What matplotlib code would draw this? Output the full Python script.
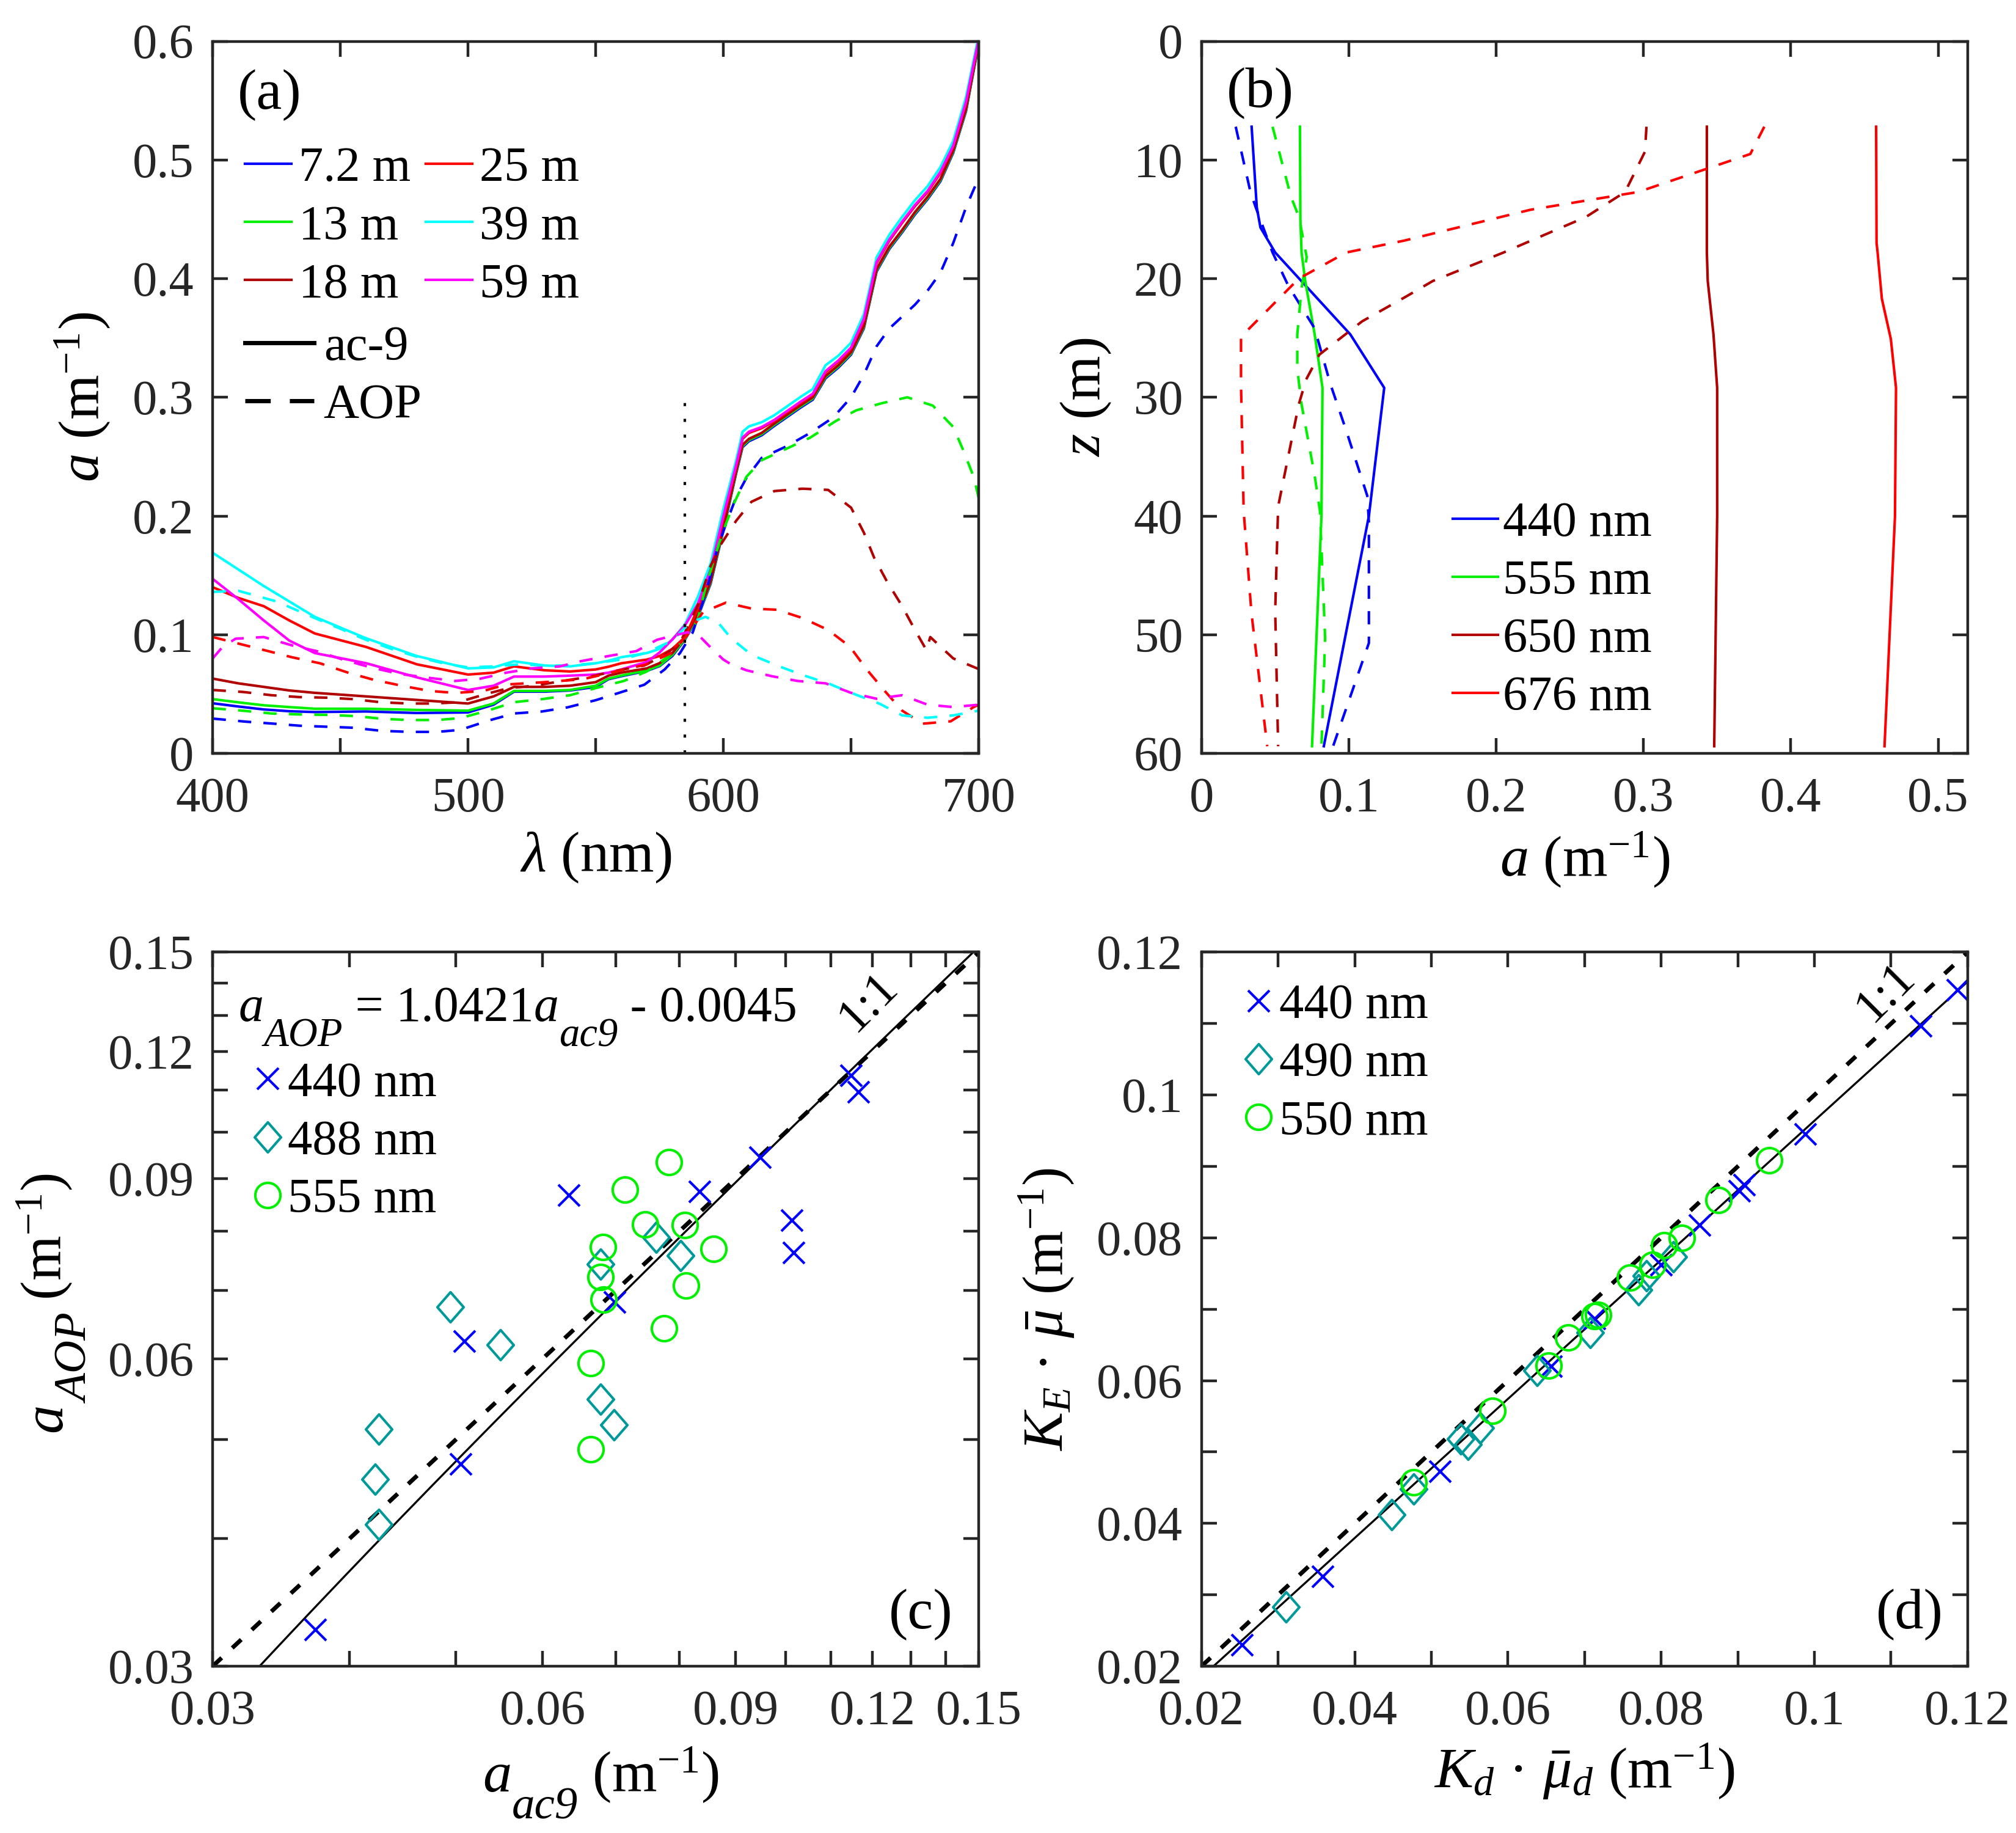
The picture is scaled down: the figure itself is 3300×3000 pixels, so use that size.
import numpy as np
import matplotlib
matplotlib.use("Agg")
import matplotlib.pyplot as plt
from matplotlib.lines import Line2D
from matplotlib.path import Path
from matplotlib.ticker import FixedLocator, NullLocator
from matplotlib.transforms import IdentityTransform

plt.rcParams['font.family'] = ['Liberation Serif', 'DejaVu Serif']
plt.rcParams['mathtext.fontset'] = 'custom'
plt.rcParams['mathtext.rm'] = 'Liberation Serif'
plt.rcParams['mathtext.it'] = 'Liberation Serif:italic'
plt.rcParams['mathtext.bf'] = 'Liberation Serif:bold'
plt.rcParams['axes.linewidth'] = 1.6
plt.rcParams['axes.edgecolor'] = '#262626'

BLUE, GREEN, DRED, RED, CYAN, MAG, TEAL = '#0000ff', '#00f000', '#b00000', '#ff0000', '#00ffff', '#ff00ff', '#009999'

# ---------------- panel (a): absorption spectra ----------------
wl_ac9 = [400, 410, 420, 430, 440, 460, 480, 500, 510, 518, 530, 540, 550, 555, 560, 570, 575, 580, 585,
          590, 595, 600, 605, 607.5, 610, 615, 620, 630, 635, 640, 645, 650, 655, 660, 665, 670, 675,
          680, 685, 690, 695, 700]
ac9_7m = [.0422, .0395, .037, .0355, .0348, .0353, .034, .0345, .041, .052, .052, .053, .056, .0625, .065, .0695,
          .0735, .082, .096, .115, .143, .188, .236, .258, .263, .268, .276, .291, .298, .316, .325, .336, .358,
          .406, .425, .439, .454, .467, .482, .506, .541, .598]
ac9_13m = [.0457, .043, .0405, .039, .0376, .0376, .0366, .036, .042, .0526, .0526, .0534, .057, .063, .0655, .070,
           .074, .083, .0966, .116, .144, .189, .237, .259, .264, .269, .277, .292, .299, .317, .326, .337, .359,
           .407, .426, .440, .455, .468, .483, .507, .542, .599]
ac9_18m = [.063, .059, .056, .053, .051, .048, .045, .042, .048, .056, .056, .057, .060, .0655, .068, .0716,
           .076, .0845, .098, .117, .145, .190, .238, .260, .265, .270, .278, .293, .300, .318, .327, .338, .360,
           .408, .427, .441, .456, .469, .484, .508, .543, .600]
ac9_25m = [.140, .131, .124, .112, .101, .0897, .075, .0664, .068, .0733, .070, .069, .0707, .073, .0759, .079,
           .082, .088, .098, .122, .152, .198, .241, .265, .270, .274, .280, .295, .302, .321, .330, .341, .365,
           .413, .432, .447, .461, .473, .489, .511, .548, .601]
ac9_39m = [.169, .155, .141, .128, .115, .097, .082, .0716, .0724, .0776, .074, .0733, .0759, .078, .081, .0845,
           .088, .0957, .109, .132, .160, .206, .247, .271, .2755, .279, .285, .300, .307, .327, .335, .346, .370,
           .418, .437, .452, .466, .478, .494, .516, .553, .605]
ac9_59m = [.147, .130, .112, .095, .0845, .076, .064, .0534, .057, .0647, .0647, .0655, .0664, .068, .0707, .077,
           .085, .096, .108, .126, .155, .200, .243, .266, .271, .275, .281, .296, .303, .322, .331, .342, .366,
           .414, .433, .448, .462, .474, .490, .512, .549, .602]

wl_aop_7m = [400, 413, 424, 434, 445, 455, 466, 477, 488, 497, 508, 518, 529, 539, 550, 559, 569, 577, 583, 588,
             592, 595, 597.5, 600.8, 605, 609, 615, 625, 634, 643, 650, 655, 660, 665, 670, 675, 680, 685, 690,
             695, 700]
aop_7m = [.0293, .0267, .025, .0233, .0224, .0216, .019, .0181, .0181, .0198, .0276, .0336, .0353, .0388, .0448,
          .0509, .0578, .0707, .0845, .102, .128, .150, .172, .192, .216, .232, .249, .259, .270, .283, .300, .319,
          .343, .358, .368, .378, .390, .405, .430, .460, .485]
wl_aop_13m = [400, 412, 423, 434, 445, 456, 467, 477, 488, 497, 508, 518, 529, 540, 550, 561, 570, 578, 585, 590,
              593, 597, 600, 604, 609, 615, 625, 634, 644, 652, 662, 672, 682, 690, 694, 698, 700]
aop_13m = [.038, .0359, .0336, .0328, .0324, .0314, .029, .0281, .0281, .0297, .0362, .0431, .0457, .049, .055,
           .061, .069, .081, .097, .113, .140, .168, .188, .21, .233, .247, .257, .266, .280, .289, .295, .300,
           .293, .275, .255, .233, .215]
wl_aop_18m = [400, 412, 423, 434, 445, 455, 466, 477, 486, 496, 507, 516, 526, 537, 548, 559, 569, 577, 583, 590,
              595, 599, 605, 611, 620, 631, 641, 650, 655, 659, 664, 670, 675, 679.5, 681, 690, 700]
aop_18m = [.0534, .0517, .049, .0474, .0469, .0457, .043, .042, .042, .043, .050, .055, .057, .061, .0647, .070,
           .074, .083, .093, .125, .158, .176, .196, .212, .221, .223, .222, .207, .186, .165, .145, .124, .104,
           .087, .098, .080, .071]
wl_aop_25m = [400, 411, 422, 431, 442, 453, 463, 474, 485, 495, 506, 515, 530, 545, 560, 570, 580, 586, 592, 601,
              611, 621, 631, 641, 649.5, 656, 663, 670, 678, 689, 698, 700]
aop_25m = [.098, .092, .086, .081, .0759, .068, .062, .057, .0526, .0509, .0526, .058, .060, .0625, .070, .075,
           .085, .100, .119, .127, .122, .121, .114, .104, .090, .071, .053, .036, .025, .027, .039, .041]
wl_aop_39m = [400, 410, 425, 440, 450, 460, 470, 480, 490, 500, 510, 520, 530, 540, 550, 560, 570, 580, 585, 589,
              593, 598, 603, 611, 621, 631, 641, 650, 661, 670, 680, 690, 700]
aop_39m = [.136, .137, .128, .114, .105, .0957, .088, .0814, .076, .0724, .0733, .075, .074, .074, .076, .079,
           .085, .095, .106, .112, .115, .110, .097, .083, .074, .066, .059, .051, .042, .032, .030, .032, .036]
wl_aop_59m = [400, 404, 409, 420, 431, 441, 451, 462, 473, 484, 495, 505, 515, 525, 536, 544, 555, 566, 574, 580,
              586, 591, 596, 600, 603, 609, 619, 629, 640, 650, 660, 670, 680, 690, 700]
aop_59m = [.080, .090, .0966, .098, .091, .086, .079, .0724, .067, .0638, .061, .063, .068, .0716, .0733, .0776,
           .082, .0862, .0957, .099, .102, .098, .087, .079, .075, .070, .065, .061, .059, .051, .046, .049, .041,
           .039, .041]

depth_labels = ['7.2 m', '13 m', '18 m', '25 m', '39 m', '59 m']
depth_colors = [BLUE, GREEN, DRED, RED, CYAN, MAG]
spectra_ac9 = [ac9_7m, ac9_13m, ac9_18m, ac9_25m, ac9_39m, ac9_59m]
spectra_aop = [(wl_aop_7m, aop_7m), (wl_aop_13m, aop_13m), (wl_aop_18m, aop_18m),
               (wl_aop_25m, aop_25m), (wl_aop_39m, aop_39m), (wl_aop_59m, aop_59m)]
wl_cutoff = 585

# ---------------- panel (b): absorption profiles ----------------
z_ac9_440 = [7.2, 14, 15.7, 17.8, 24.7, 29.2, 40, 59.4]
ac9_440 = [0.034, 0.0375, 0.040, 0.050, 0.101, 0.124, 0.1136, 0.083]
z_aop_440 = [7.2, 12.7, 14.0, 17.8, 20.6, 24.2, 28.9, 32.8, 38.3, 40.5, 50.7, 59.4]
aop_440 = [0.0232, 0.0332, 0.0368, 0.0482, 0.0589, 0.0768, 0.0875, 0.0982, 0.1125, 0.1136, 0.1136, 0.0893]
z_ac9_555 = [7.2, 15, 17.8, 20.2, 24.7, 29.2, 40, 59.4]
ac9_555 = [0.0668, 0.0671, 0.0679, 0.0704, 0.0768, 0.0821, 0.0814, 0.075]
z_aop_555 = [7.2, 13.1, 14.8, 18.2, 20.8, 24.7, 27.6, 30.6, 36.6, 39.6, 50.3, 59.4]
aop_555 = [0.0482, 0.0607, 0.0661, 0.0714, 0.0679, 0.065, 0.065, 0.0679, 0.0768, 0.0804, 0.0839, 0.0814]
z_ac9_650 = [7.2, 17.8, 20.2, 24.7, 29.2, 40, 59.4]
ac9_650 = [0.343, 0.343, 0.3436, 0.3475, 0.350, 0.350, 0.348]
z_aop_650 = [7.2, 9.3, 12.7, 14.8, 17.8, 20.2, 21.5, 23.6, 26.4, 28.5, 30.6, 39.2, 48.0, 59.4]
aop_650 = [0.302, 0.301, 0.2875, 0.261, 0.205, 0.157, 0.139, 0.109, 0.080, 0.071, 0.066, 0.052, 0.050, 0.052]
z_ac9_676 = [7.2, 17, 17.8, 21.7, 25.1, 29.2, 40, 59.4]
ac9_676 = [0.4579, 0.4582, 0.4589, 0.4618, 0.4679, 0.4714, 0.4707, 0.4636]
z_aop_676 = [7.2, 9.5, 12.7, 14.2, 16.8, 17.8, 20, 24.9, 29, 39.6, 48.2, 59.4]
aop_676 = [0.382, 0.3725, 0.2964, 0.2232, 0.1375, 0.0982, 0.066, 0.0268, 0.0268, 0.0286, 0.0339, 0.0446]

profile_labels = ['440 nm', '555 nm', '650 nm', '676 nm']
profile_colors = [BLUE, GREEN, DRED, RED]
profiles_ac9 = [(z_ac9_440, ac9_440), (z_ac9_555, ac9_555), (z_ac9_650, ac9_650), (z_ac9_676, ac9_676)]
profiles_aop = [(z_aop_440, aop_440), (z_aop_555, aop_555), (z_aop_650, aop_650), (z_aop_676, aop_676)]

# ---------------- panel (c): a_AOP vs a_ac9 ----------------
c440_x = [0.0372, 0.0505, 0.0509, 0.0634, 0.0698, 0.0834, 0.0947, 0.1012, 0.1017, 0.1147, 0.1165]
c440_y = [0.0326, 0.0473, 0.0624, 0.0868, 0.0682, 0.0875, 0.0945, 0.0820, 0.0762, 0.1137, 0.1095]
c488_x = [0.0425, 0.0422, 0.0425, 0.0494, 0.0549, 0.0678, 0.0697, 0.0678, 0.0762, 0.0802]
c488_y = [0.0413, 0.0457, 0.0512, 0.0674, 0.0619, 0.0548, 0.0517, 0.0743, 0.0789, 0.0757]
c555_x = [0.0664, 0.0664, 0.0682, 0.0678, 0.0681, 0.0713, 0.0744, 0.0782, 0.0774, 0.0809, 0.0811, 0.0859]
c555_y = [0.0489, 0.0594, 0.0686, 0.0721, 0.0772, 0.0879, 0.0812, 0.0934, 0.0643, 0.0811, 0.0708, 0.0769]
fit_c = (1.0421, -0.0045)

# ---------------- panel (d): K_E*mu vs Kd*mud ----------------
d440_x = [0.0253, 0.0358, 0.0511, 0.0656, 0.0713, 0.0800, 0.0850, 0.0902, 0.0908, 0.0988, 0.1139, 0.1187]
d440_y = [0.0230, 0.0326, 0.0473, 0.0620, 0.0687, 0.0762, 0.0818, 0.0866, 0.0874, 0.0945, 0.1097, 0.1147]
d490_x = [0.0310, 0.0448, 0.0477, 0.0538, 0.0548, 0.0564, 0.0638, 0.0707, 0.0770, 0.0781, 0.0816]
d490_y = [0.0283, 0.0412, 0.0448, 0.0518, 0.0511, 0.0534, 0.0614, 0.0667, 0.0727, 0.0747, 0.0773]
d550_x = [0.0477, 0.0580, 0.0653, 0.0679, 0.0713, 0.0718, 0.0759, 0.0789, 0.0804, 0.0827, 0.0875, 0.0941]
d550_y = [0.0458, 0.0558, 0.0621, 0.0660, 0.0690, 0.0692, 0.0744, 0.0762, 0.0790, 0.0800, 0.0853, 0.0909]
fit_d = (0.974, -0.0010)

TICK_FS = 29
LAB_FS = 34
LW = 1.5
DASH = (5.2, 4.8)
DPI = 200
diamond = Path([(0, 1), (0.875, 0), (0, -1), (-0.875, 0), (0, 1)], closed=True)
MK = dict(x=dict(marker='x', ms=12.6, mew=1.5, color=BLUE, ls='none'),
          d=dict(marker=diamond, ms=17.7, mew=1.5, mfc='none', mec=TEAL, color=TEAL, ls='none'),
          o=dict(marker='o', ms=14.8, mew=1.5, mfc='none', mec=GREEN, color=GREEN, ls='none'))
LEG = dict(frameon=False, fontsize=TICK_FS, labelspacing=0.27, borderpad=0, borderaxespad=0)


def style(ax):
    ax.tick_params(which='both', direction='in', top=True, right=True, length=9, width=1.6,
                   labelsize=TICK_FS, colors='#262626')
    ax.tick_params(axis='y', pad=11)
    ax.tick_params(axis='x', pad=14)


def chain(fig, x, y, pieces, vertical=False):
    # MATLAB-like text with full-size dropped subscripts, built from pieces placed one after another
    rend = fig.canvas.get_renderer()
    px, py = fig.transFigure.transform((x, y))
    k = DPI / 72.0
    for s, size, style_, rise in pieces:
        if vertical:
            t = fig.text(px - rise * k, py, s, fontsize=size, fontstyle=style_, rotation=90,
                         rotation_mode='anchor', ha='left', va='baseline', transform=IdentityTransform())
            py = t.get_window_extent(rend).y1
        else:
            t = fig.text(px, py + rise * k, s, fontsize=size, fontstyle=style_,
                         ha='left', va='baseline', transform=IdentityTransform())
            px = t.get_window_extent(rend).x1


fig = plt.figure(figsize=(16.5, 15), dpi=DPI)
ax_a = fig.add_axes([0.1055, 0.589, 0.380, 0.3885])
ax_b = fig.add_axes([0.596, 0.589, 0.380, 0.3885])
ax_c = fig.add_axes([0.1055, 0.091, 0.380, 0.3895])
ax_d = fig.add_axes([0.596, 0.091, 0.380, 0.3895])

# (a)
for col, vals in zip(depth_colors, spectra_ac9):
    ax_a.plot(wl_ac9, vals, color=col, lw=LW)
for col, (wl, vals) in zip(depth_colors, spectra_aop):
    ax_a.plot(wl, vals, color=col, lw=LW, ls=(0, DASH))
ax_a.plot([wl_cutoff, wl_cutoff], [0, 0.3], color='k', lw=1.5, ls=(0, (1.2, 5)))
ax_a.set_xlim(400, 700)
ax_a.set_ylim(0, 0.6)
ax_a.set_xticks([400, 450, 500, 550, 600, 650, 700], ['400', '', '500', '', '600', '', '700'])
ax_a.set_yticks([0, 0.1, 0.2, 0.3, 0.4, 0.5, 0.6], ['0', '0.1', '0.2', '0.3', '0.4', '0.5', '0.6'])
style(ax_a)
ax_a.set_xlabel(r'$\lambda$ (nm)', fontsize=LAB_FS, labelpad=5)
ax_a.set_ylabel(r'$a$ (m$^{-1}$)', fontsize=LAB_FS, labelpad=12)
h1 = [Line2D([], [], color=c, lw=LW) for c in depth_colors]
leg1 = ax_a.legend(h1, depth_labels, ncol=2, loc='upper left', bbox_to_anchor=(0.042, 0.852),
                   handlelength=0.95, handletextpad=0.15, columnspacing=0.3, **LEG)
ax_a.add_artist(leg1)
h2 = [Line2D([], [], color='k', lw=2.5), Line2D([], [], color='k', lw=2.5, ls=(0, (6, 4.5)))]
ax_a.legend(h2, ['ac-9', 'AOP'], loc='upper left', bbox_to_anchor=(0.042, 0.601),
            handlelength=1.4, handletextpad=0.2, **LEG)
ax_a.text(0.074, 0.924, '(a)', transform=ax_a.transAxes, fontsize=34, ha='center', va='center')

# (b)
for col, (z, vals) in zip(profile_colors, profiles_ac9):
    ax_b.plot(vals, z, color=col, lw=LW)
for col, (z, vals) in zip(profile_colors, profiles_aop):
    ax_b.plot(vals, z, color=col, lw=LW, ls=(0, DASH))
ax_b.set_xlim(0, 0.52)
ax_b.set_ylim(60, 0)
ax_b.set_xticks([0, 0.1, 0.2, 0.3, 0.4, 0.5], ['0', '0.1', '0.2', '0.3', '0.4', '0.5'])
ax_b.set_yticks([0, 10, 20, 30, 40, 50, 60])
style(ax_b)
ax_b.set_xlabel(r'$a$ (m$^{-1}$)', fontsize=LAB_FS, labelpad=5)
ax_b.set_ylabel(r'$z$ (m)', fontsize=LAB_FS, labelpad=12)
hb = [Line2D([], [], color=c, lw=LW) for c in profile_colors]
ax_b.legend(hb, profile_labels, loc='upper left', bbox_to_anchor=(0.328, 0.354),
            handlelength=0.92, handletextpad=0.1, **LEG)
ax_b.text(0.077, 0.927, '(b)', transform=ax_b.transAxes, fontsize=34, ha='center', va='center')

# (c)
ax_c.set_xscale('log')
ax_c.set_yscale('log')
one = np.array([0.03, 0.15])
ax_c.plot(one, one, color='k', lw=2.5, ls=(0, (2.9, 3.4)))
xf = np.linspace(0.03, 0.15, 200)
ax_c.plot(xf, fit_c[0] * xf + fit_c[1], color='k', lw=1.2)
pc1, = ax_c.plot(c440_x, c440_y, **MK['x'])
pc2, = ax_c.plot(c488_x, c488_y, **MK['d'])
pc3, = ax_c.plot(c555_x, c555_y, **MK['o'])
ax_c.set_xlim(0.03, 0.15)
ax_c.set_ylim(0.03, 0.15)
cticks = [0.03, 0.04, 0.05, 0.06, 0.07, 0.08, 0.09, 0.10, 0.11, 0.12, 0.13, 0.14, 0.15]
clabels = ['0.03', '', '', '0.06', '', '', '0.09', '', '', '0.12', '', '', '0.15']
for axis in (ax_c.xaxis, ax_c.yaxis):
    axis.set_major_locator(FixedLocator(cticks))
    axis.set_minor_locator(NullLocator())
ax_c.set_xticklabels(clabels)
ax_c.set_yticklabels(clabels)
style(ax_c)
ax_c.text(0.119, 0.134, '1:1', fontsize=TICK_FS, rotation=45, ha='center', va='center')
ax_c.legend([pc1, pc2, pc3], ['440 nm', '488 nm', '555 nm'], loc='upper left',
            bbox_to_anchor=(0.052, 0.847), numpoints=1, handlelength=0.6, handletextpad=0.12, **LEG)
ax_c.text(0.924, 0.072, '(c)', transform=ax_c.transAxes, fontsize=34, ha='center', va='center')

# (d)
one = np.array([0.02, 0.12])
ax_d.plot(one, one, color='k', lw=2.5, ls=(0, (2.9, 3.4)))
ax_d.plot(one, fit_d[0] * one + fit_d[1], color='k', lw=1.2)
pd1, = ax_d.plot(d440_x, d440_y, **MK['x'])
pd2, = ax_d.plot(d490_x, d490_y, **MK['d'])
pd3, = ax_d.plot(d550_x, d550_y, **MK['o'])
ax_d.set_xlim(0.02, 0.12)
ax_d.set_ylim(0.02, 0.12)
dticks = [0.02, 0.03, 0.04, 0.05, 0.06, 0.07, 0.08, 0.09, 0.10, 0.11, 0.12]
dlabels = ['0.02', '', '0.04', '', '0.06', '', '0.08', '', '0.1', '', '0.12']
ax_d.set_xticks(dticks, dlabels)
ax_d.set_yticks(dticks, dlabels)
style(ax_d)
ax_d.set_xlabel(r'$K_d$ · $\bar{\mu}_d$ (m$^{-1}$)', fontsize=LAB_FS, labelpad=4)
ax_d.set_ylabel(r'$K_E$ · $\bar{\mu}$ (m$^{-1}$)', fontsize=LAB_FS, labelpad=12)
ax_d.text(0.1093, 0.1144, '1:1', fontsize=TICK_FS, rotation=45, ha='center', va='center')
ax_d.legend([pd1, pd2, pd3], ['440 nm', '490 nm', '550 nm'], loc='upper left',
            bbox_to_anchor=(0.055, 0.956), numpoints=1, handlelength=0.6, handletextpad=0.12, **LEG)
ax_d.text(0.924, 0.072, '(d)', transform=ax_d.transAxes, fontsize=34, ha='center', va='center')

# equation and axis labels of (c), with MATLAB-style large subscripts
eq_x, eq_y = fig.transFigure.inverted().transform(ax_c.transAxes.transform((0.0335, 0.904)))
chain(fig, eq_x, eq_y, [('a', 29.5, 'italic', 0), ('AOP', 24, 'italic', -15),
                        (' = 1.0421', 29.5, 'normal', 0), ('a', 29.5, 'italic', 0),
                        ('ac9', 24, 'italic', -15), (' - 0.0045', 29.5, 'normal', 0)])
chain(fig, 0.2394, 0.0227, [('a', LAB_FS, 'italic', 0), ('ac9', 27, 'italic', -16),
                            (r' (m$^{-1}$)', LAB_FS, 'normal', 0)])
chain(fig, 0.0303, 0.2187, [('a', LAB_FS, 'italic', 0), ('AOP', 27, 'italic', -16),
                            (r' (m$^{-1}$)', LAB_FS, 'normal', 0)], vertical=True)

fig.savefig('out.png', dpi=DPI)
